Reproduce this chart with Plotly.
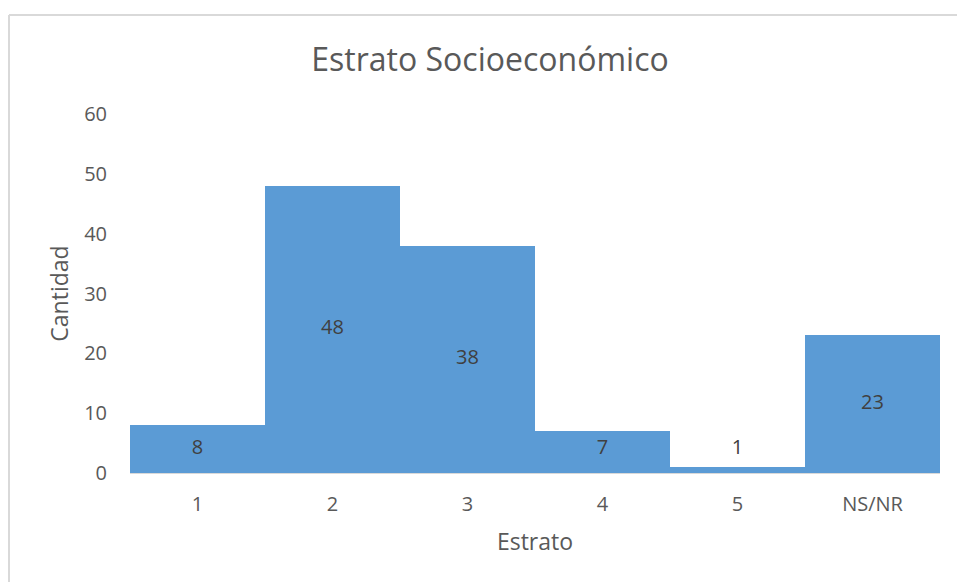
import plotly.graph_objects as go

categories = ["1", "2", "3", "4", "5", "NS/NR"]
values = [8, 48, 38, 7, 1, 23]
y_ticks = [0, 10, 20, 30, 40, 50, 60]

W, H = 957, 582
L, R, T, B = 130, 17, 114, 109
pw, ph = W - L - R, H - T - B

FONT = "Open Sans, Noto Sans, sans-serif"
TXT = "#595959"

fig = go.Figure()
fig.add_trace(go.Bar(
    x=categories, y=values,
    marker=dict(color="#5B9BD5", line=dict(width=0)),
    hoverinfo="x+y",
))
fig.add_trace(go.Scatter(
    x=categories, y=[max(v / 2, 4) for v in values],
    mode="text", text=[str(v) for v in values],
    textfont=dict(family=FONT, size=20, color="#404040"),
    hoverinfo="skip",
))

def px_x(x):
    return (x - L) / pw

def px_y(y):
    return (H - B - y) / ph

fig.update_layout(
    width=W, height=H,
    margin=dict(l=L, r=R, t=T, b=B),
    paper_bgcolor="white", plot_bgcolor="white",
    showlegend=False, bargap=0,
    font=dict(family=FONT, color=TXT),
    title=dict(text="Estrato Socioeconómico", x=490 / W, xref="container", xanchor="center",
               y=1 - 60 / H, yref="container", yanchor="middle",
               font=dict(family=FONT, size=32, color=TXT)),
    xaxis=dict(
        showgrid=False, zeroline=False, showline=True, linecolor="#d9d9d9", linewidth=1,
        ticks="", tickfont=dict(family=FONT, size=20, color=TXT), ticklabelstandoff=13,
        title=dict(text="Estrato", font=dict(family=FONT, size=23, color=TXT), standoff=17),
    ),
    yaxis=dict(
        range=[0, 60], tickvals=y_ticks, showgrid=False, zeroline=False, showline=False,
        ticks="", tickfont=dict(family=FONT, size=20, color=TXT), ticklabelstandoff=22,
        title=dict(text="Cantidad", font=dict(family=FONT, size=23, color=TXT), standoff=9),
    ),
    shapes=[
        dict(type="line", xref="paper", yref="paper", x0=px_x(9), x1=px_x(9), y0=px_y(15), y1=px_y(H + 5),
             line=dict(color="#d9d9d9", width=2)),
        dict(type="line", xref="paper", yref="paper", x0=px_x(9), x1=px_x(W + 5), y0=px_y(15), y1=px_y(15),
             line=dict(color="#d9d9d9", width=2)),
    ],
)

fig.write_html("out.html")
